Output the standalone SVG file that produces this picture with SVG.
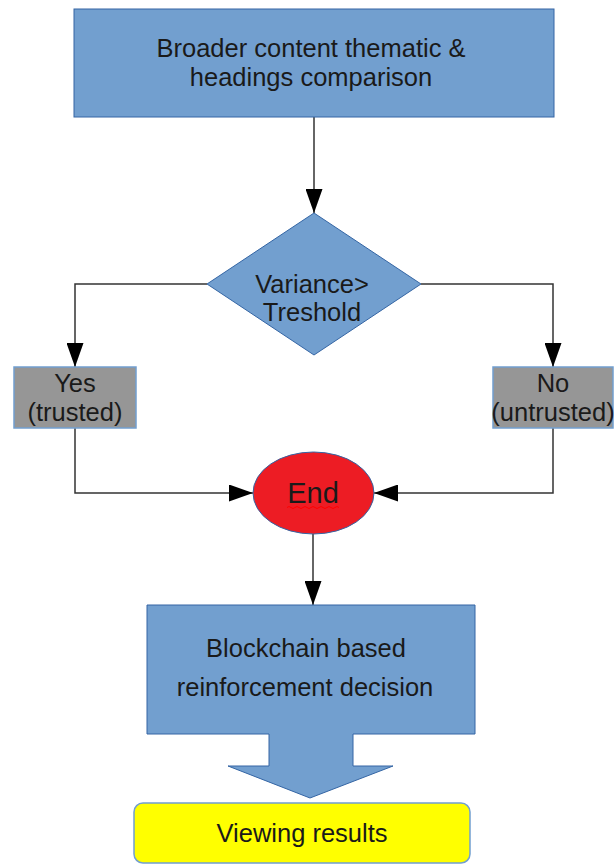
<svg xmlns="http://www.w3.org/2000/svg" width="614" height="864" viewBox="0 0 614 864">
<style>
text{font-family:"Liberation Sans",Arial,sans-serif;font-size:25.5px;fill:#1a1a1a;text-anchor:middle}
.blue{fill:#729fcf;stroke:#3465a4;stroke-width:1}
.gray{fill:#969696;stroke:#729fcf;stroke-width:1.5}
.conn{fill:none;stroke:#333333;stroke-width:1.5}
</style>
<defs>
<marker id="ah" markerWidth="24" markerHeight="17" refX="24" refY="8.5" orient="auto" markerUnits="userSpaceOnUse">
<path d="M0,0 L24,8.5 L0,17 Z" fill="#000"/>
</marker>
</defs>
<rect width="614" height="864" fill="#ffffff"/>
<g id="connectors">
<path class="conn" d="M314,117 V213" marker-end="url(#ah)"/>
<path class="conn" d="M207,284 H75 V367" marker-end="url(#ah)"/>
<path class="conn" d="M421,284 H553 V367" marker-end="url(#ah)"/>
<path class="conn" d="M75,428 V493 H253" marker-end="url(#ah)"/>
<path class="conn" d="M553,428 V493 H374" marker-end="url(#ah)"/>
<path class="conn" d="M313,534 V605" marker-end="url(#ah)"/>
</g>
<g id="n-broader">
<rect class="blue" x="74" y="9" width="480" height="108"/>
<text x="311" y="57">Broader content thematic &amp;</text>
<text x="311" y="85.5">headings comparison</text>
</g>
<g id="n-variance">
<polygon class="blue" points="314,213 421,284 314,355 207,284"/>
<text x="312" y="293">Variance&gt;</text>
<text x="312" y="321">Treshold</text>
</g>
<g id="n-yes">
<rect class="gray" x="14" y="367" width="122" height="61"/>
<text x="75" y="392">Yes</text>
<text x="75" y="421">(trusted)</text>
</g>
<g id="n-no">
<rect class="gray" x="493" y="367" width="120" height="61"/>
<text x="553" y="392">No</text>
<text x="553" y="421">(untrusted)</text>
</g>
<g id="n-end">
<ellipse cx="313.5" cy="493" rx="60.5" ry="41" fill="#ed1c24" stroke="#3465a4" stroke-width="1"/>
<text x="313" y="503" style="font-size:29px">End</text>
<path d="M287,507.5 q2,-2 4,0 t4,0 t4,0 t4,0 t4,0 t4,0 t4,0 t4,0 t4,0 t4,0 t4,0 t4,0 t4,0" fill="none" stroke="#ff0000" stroke-width="1"/>
</g>
<g id="n-blockchain">
<path class="blue" d="M147,605 H475 V734 H353 V766 H393 L310,798 L228,766 H269 V734 H147 Z"/>
<text x="306" y="657">Blockchain based</text>
<text x="305" y="696">reinforcement decision</text>
</g>
<g id="n-viewing">
<rect x="134" y="803" width="336" height="60" rx="9" fill="#ffff00" stroke="#729fcf" stroke-width="1.5"/>
<text x="302" y="842">Viewing results</text>
</g>
</svg>
